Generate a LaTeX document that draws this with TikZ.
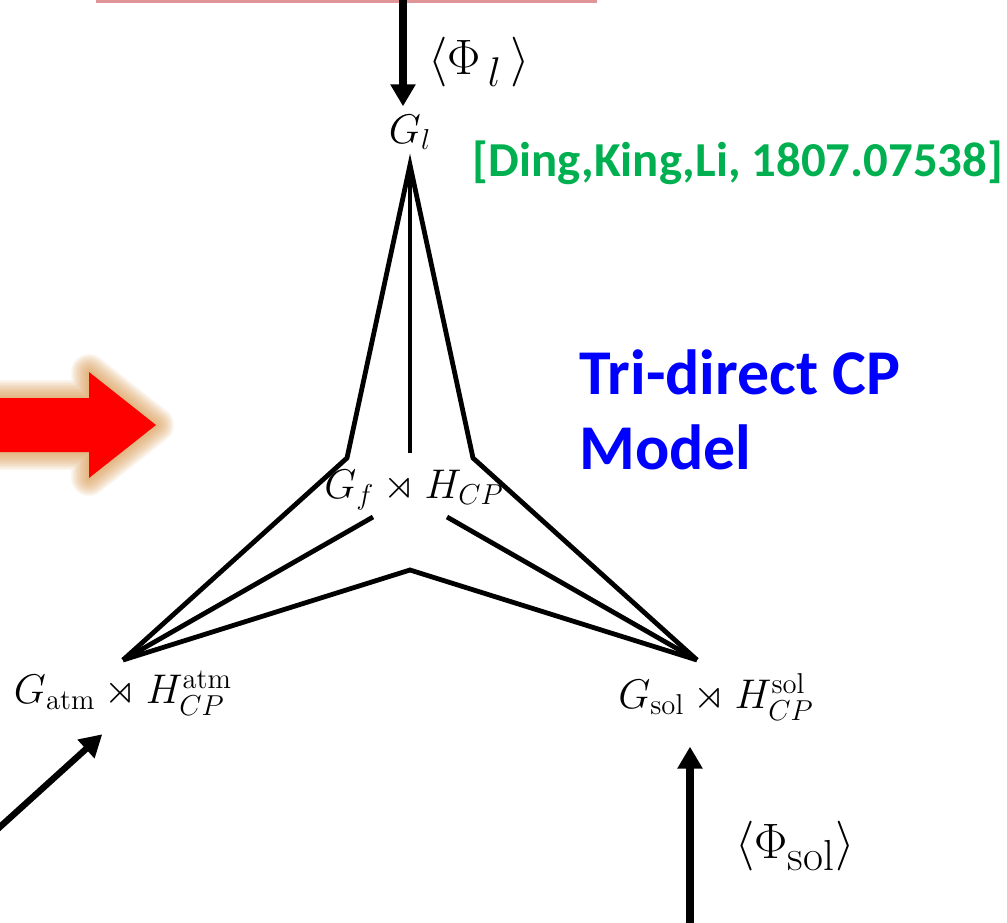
\documentclass[tikz,border=0pt]{standalone}
\usepackage{amsmath}
\usepackage{amssymb}
\usepackage{fontspec}
\newfontfamily\calibri{Carlito}
\usepackage{tikz}
\usetikzlibrary{arrows.meta, positioning}

\definecolor{citegreen}{RGB}{0,176,80}
\definecolor{modelblue}{RGB}{0,0,255}
\definecolor{boxpink}{RGB}{224,150,152}
\definecolor{glow}{RGB}{215,150,75}

\begin{document}
\begin{tikzpicture}[
  x=0.5pt, y=-0.5pt,
  >=Triangle,
  star/.style={line width=2.4pt},
  feed/.style={line width=4pt, -{Triangle[width=12pt,length=11pt]}},
  mathlbl/.style={inner sep=0pt, font=\fontsize{20.5}{24}\selectfont},
  vevlbl/.style={inner sep=0pt, font=\fontsize{31}{36}\selectfont},
]
\useasboundingbox (0,0) rectangle (1007,922);

% --- Box edge above ---
\draw[boxpink, line width=1.5pt] (96,1.5) -- (597,1.5);

% --- Red arrow ---
\foreach \w in {3,6,...,36} {
  \draw[glow, line width=\w*0.5pt, opacity=0.09, line join=round]
    (-30,398) -- (89,398) -- (89,372) -- (156,425) -- (89,478) -- (89,452) -- (-30,452) -- cycle;
}
\fill[red] (-30,398) -- (89,398) -- (89,372) -- (156,425) -- (89,478) -- (89,452) -- (-30,452) -- cycle;

% --- Star ---
\coordinate (top) at (410,165);
\coordinate (lsh) at (347,458);
\coordinate (rsh) at (473,458);
\coordinate (mid) at (410,453);
\coordinate (left) at (123,660);
\coordinate (right) at (697,660);
\coordinate (lin) at (373,517);
\coordinate (rin) at (447,517);
\coordinate (bot) at (410,570);

\draw[star] (left) -- (lsh) -- (top) -- (rsh) -- (right);
\draw[star] (top) -- (mid);
\draw[star] (left) -- (lin);
\draw[star] (right) -- (rin);
\draw[star] (left) -- (bot) -- (right);

% --- Symmetry groups ---
\node[mathlbl] (Gl) at (410,132) {$G_l$};
\node[mathlbl] (Gf) at (414,490) {$G_f\rtimes H_{CP}$};
\node[mathlbl] (Gatm) at (123,693) {$G_{\mathrm{atm}}\rtimes H^{\mathrm{atm}}_{CP}$};
\node[mathlbl] (Gsol) at (716,697) {$G_{\mathrm{sol}}\rtimes H^{\mathrm{sol}}_{CP}$};

% --- Flavons ---
\coordinate (lsrc) at (403,0);
\coordinate (atmsrc) at (-20,845);
\coordinate (solsrc) at (690,930);
\draw[feed, shorten >=4pt] (lsrc) -- (lsrc |- Gl.north);
\draw[feed, line width=3.2pt, shorten >=14pt] (atmsrc) -- (Gatm.south);
\draw[feed, shorten >=13pt] (solsrc) -- (solsrc |- Gsol.south);
\node[vevlbl] (Phil) at (479,62) {$\langle\Phi_{\,l}\,\rangle$};
\node[vevlbl] (Phisol) at (795,846) {$\langle\Phi_{\mathrm{sol}}\rangle$};

% --- Texts ---
\node[inner sep=0pt, font=\calibri\bfseries\fontsize{24.4}{29}\selectfont, text=citegreen] (cite) at (738,163) {[Ding,King,Li, 1807.07538]};
\node[inner sep=0pt, anchor=west, align=left, font=\calibri\bfseries\fontsize{31.9}{37.5}\selectfont, text=modelblue] (model) at (579,410) {Tri-direct CP\\Model};

\end{tikzpicture}
\end{document}
